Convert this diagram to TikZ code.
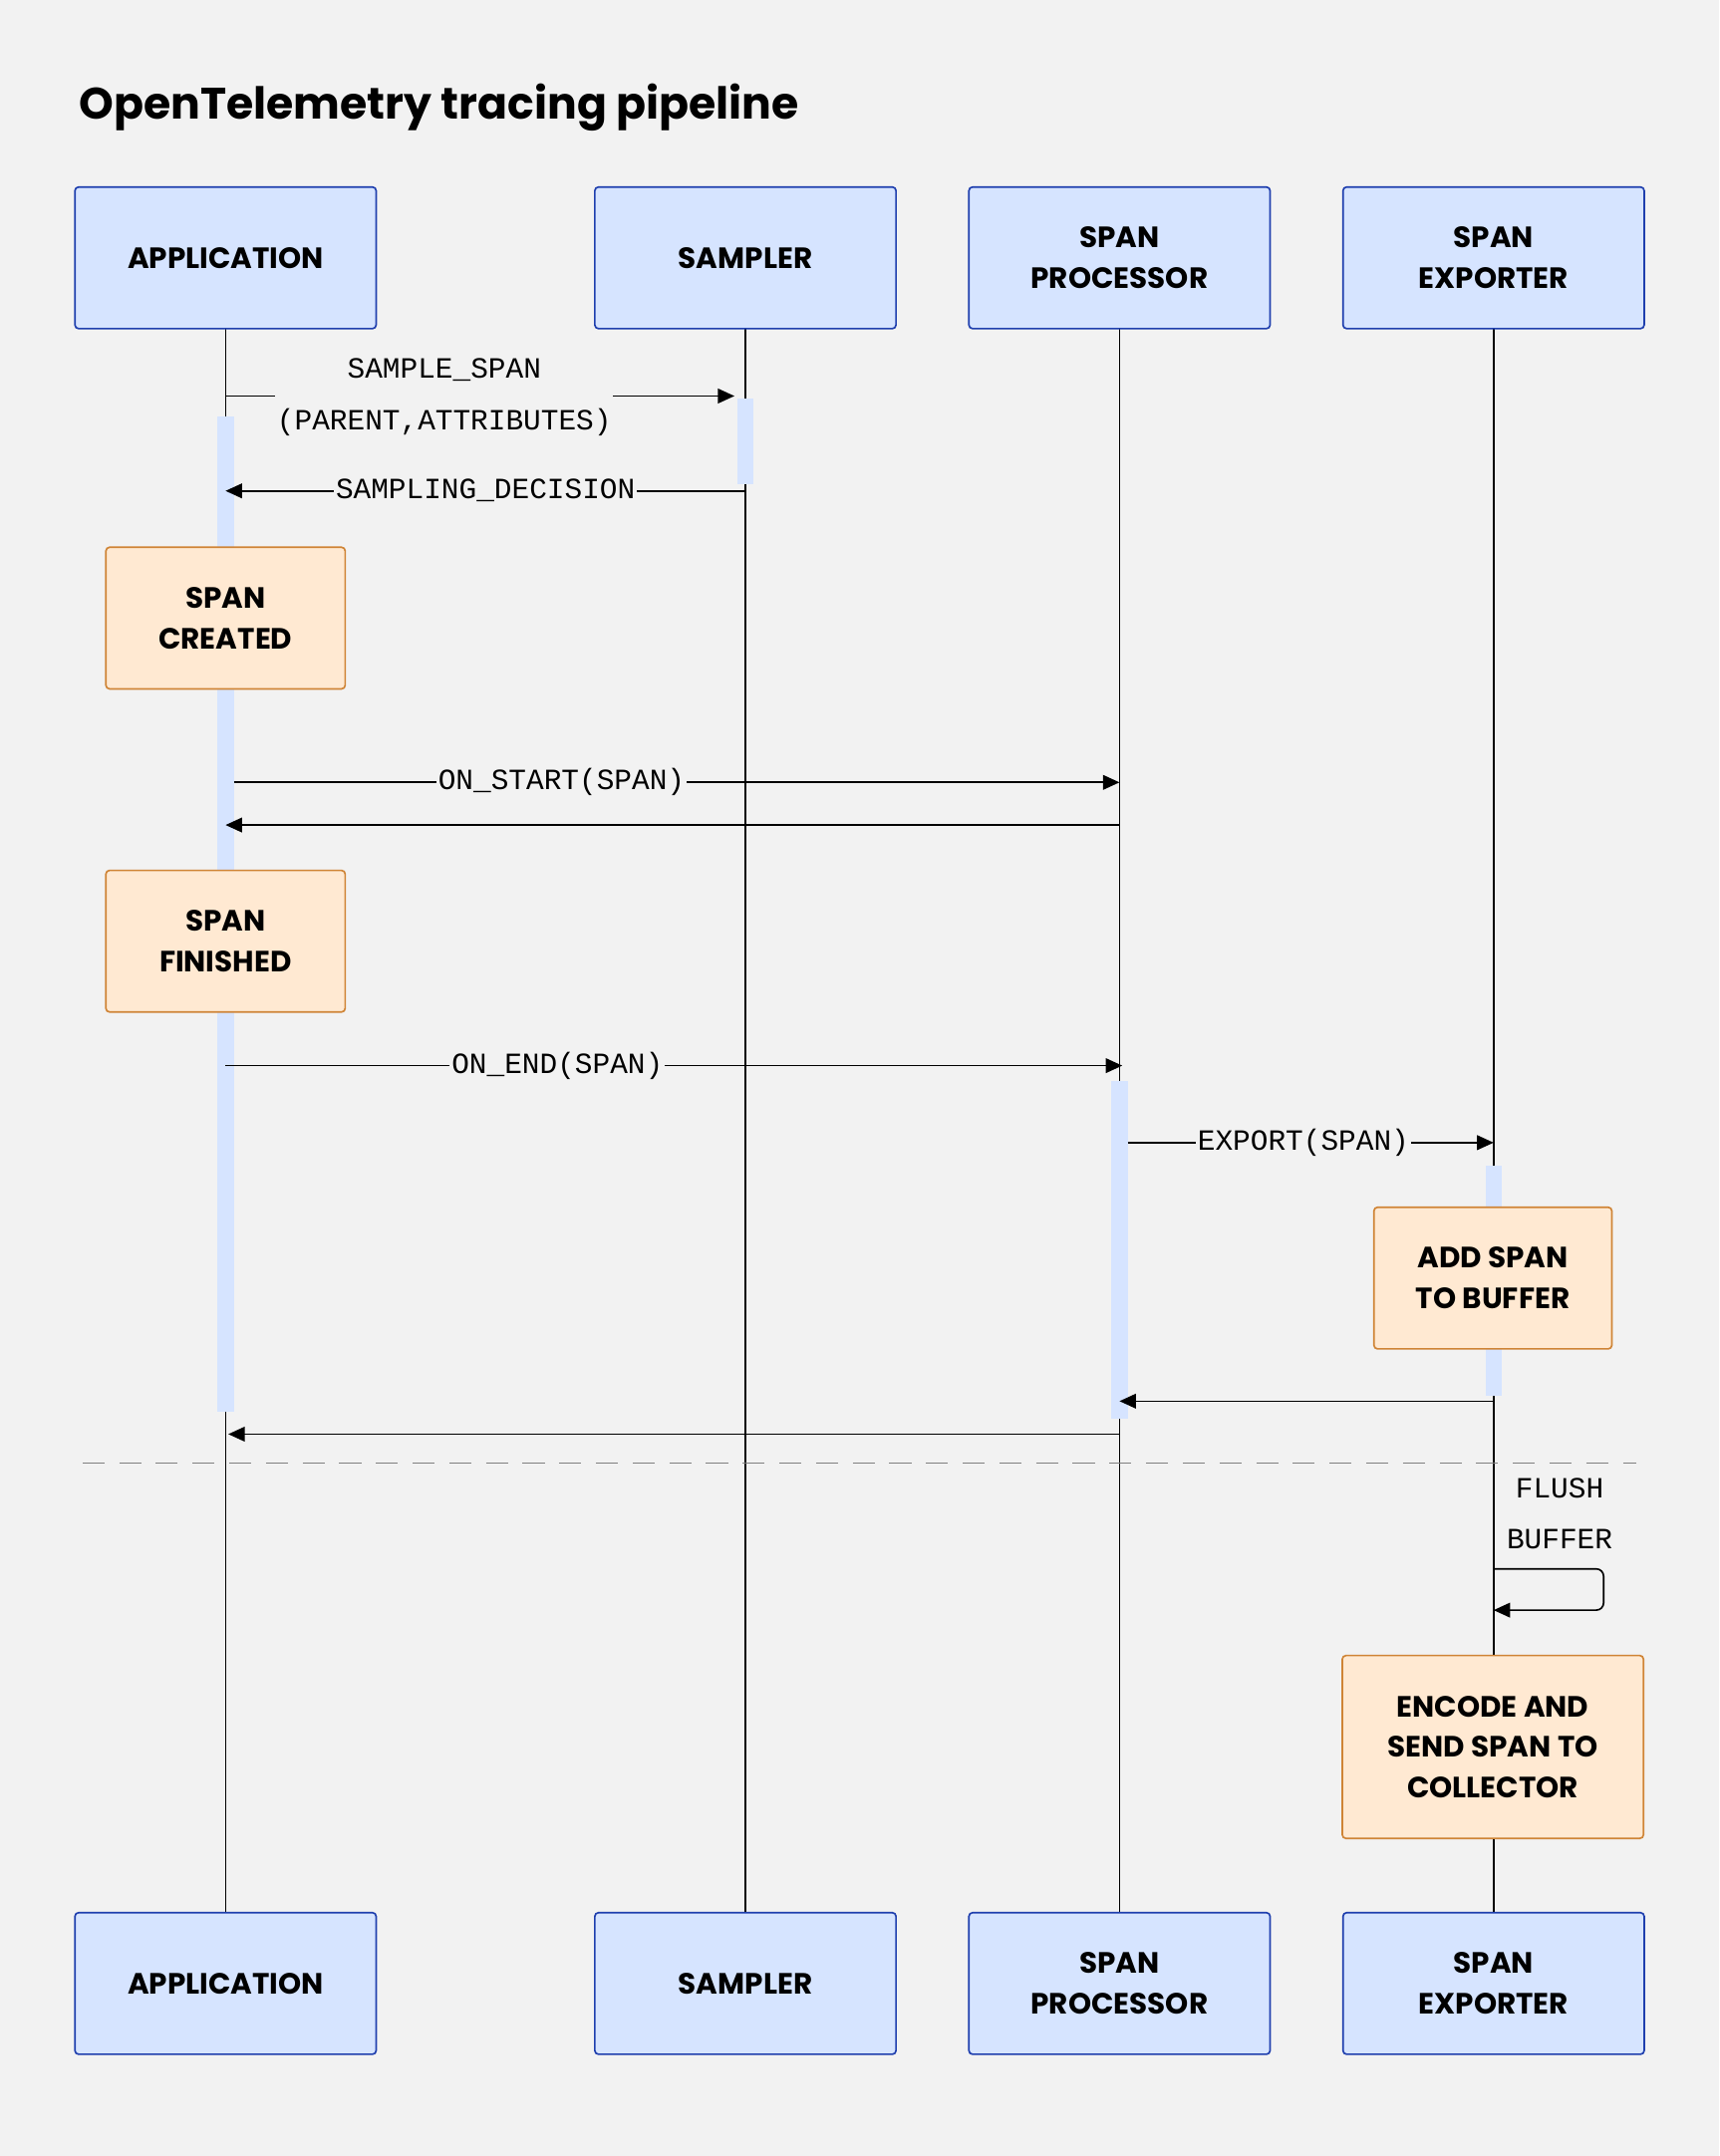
\documentclass[tikz,border=0pt]{standalone}
\usepackage{fontspec}
\setmainfont{Poppins}
\setmonofont{Liberation Mono}
\usetikzlibrary{arrows.meta}
\definecolor{bg}{HTML}{F2F2F2}
\definecolor{pfill}{HTML}{D6E4FF}
\definecolor{pline}{HTML}{1F3FAE}
\definecolor{nfill}{HTML}{FFE9D2}
\definecolor{nline}{HTML}{CF8436}
\definecolor{act}{HTML}{D6E4FF}
\begin{document}
\begin{tikzpicture}[x=0.75pt,y=-0.75pt,
  part/.style={draw=pline,fill=pfill,rounded corners=2pt,line width=0.9pt,minimum width=219*0.75pt,minimum height=103*0.75pt,align=center,font=\bfseries\fontsize{16}{22}\selectfont},
  note/.style={draw=nline,fill=nfill,rounded corners=2pt,line width=0.9pt,align=center,font=\bfseries\fontsize{16}{22}\selectfont},
  msg/.style={line width=0.9pt,-{Triangle[length=9pt,width=8pt]}},
  lbl/.style={fill=bg,inner sep=1pt,font=\ttfamily\fontsize{16}{28}\selectfont,align=center},
  life/.style={line width=0.9pt},
  actbar/.style={fill=act,draw=none}]
\fill[bg] (0,0) rectangle (1250,1568);
\useasboundingbox (0,0) rectangle (1250,1568);
\node[anchor=west,font=\bfseries\fontsize{24}{28}\selectfont] (title) at (53,78) {OpenTelemetry tracing pipeline};
% lifelines
\foreach \n/\x in {a/164,s/542,p/814,e/1086}{
  \draw[life] (\x,239) -- (\x,1391);
}
% activation bars
\fill[actbar] (158,303) rectangle (170,1027);
\fill[actbar] (536,290) rectangle (548,352);
\fill[actbar] (808,786) rectangle (820,1032);
\fill[actbar] (1080,848) rectangle (1092,1015);
% headers
\node[part] (a1) at (164,187.5) {APPLICATION};
\node[part] (s1) at (542,187.5) {SAMPLER};
\node[part] (p1) at (814,187.5) {SPAN\\PROCESSOR};
\node[part] (e1) at (1086,187.5) {SPAN\\EXPORTER};
\node[part] (a2) at (164,1442.5) {APPLICATION};
\node[part] (s2) at (542,1442.5) {SAMPLER};
\node[part] (p2) at (814,1442.5) {SPAN\\PROCESSOR};
\node[part] (e2) at (1086,1442.5) {SPAN\\EXPORTER};
% notes
\node[note,minimum width=174*0.75pt,minimum height=103*0.75pt] (n1) at (164,449.5) {SPAN\\CREATED};
\node[note,minimum width=174*0.75pt,minimum height=103*0.75pt] (n2) at (164,684.5) {SPAN\\FINISHED};
\node[note,minimum width=173*0.75pt,minimum height=103*0.75pt] (n3) at (1085.5,929.5) {ADD SPAN\\TO BUFFER};
\node[note,minimum width=219*0.75pt,minimum height=133*0.75pt] (n4) at (1085.5,1270.5) {ENCODE AND\\SEND SPAN TO\\COLLECTOR};
% messages
\coordinate (m1a) at (164,288); \coordinate (m1b) at (534,288);
\draw[msg] (m1a) -- (m1b);
\node[lbl] (l1) at (323,289) {SAMPLE\_SPAN\\(PARENT,ATTRIBUTES)};
\coordinate (m2a) at (542,357); \coordinate (m2b) at (164,357);
\draw[msg] (m2a) -- (m2b) node[lbl,midway] (l2) {SAMPLING\_DECISION};
\coordinate (m3a) at (170,569); \coordinate (m3b) at (814,569);
\draw[msg] (m3a) -- (m3b) node[lbl,pos=0.37] (l3) {ON\_START(SPAN)};
\coordinate (m4a) at (814,600); \coordinate (m4b) at (164,600);
\draw[msg] (m4a) -- (m4b);
\coordinate (m5a) at (164,775); \coordinate (m5b) at (816,775);
\draw[msg] (m5a) -- (m5b) node[lbl,pos=0.37] (l5) {ON\_END(SPAN)};
\coordinate (m6a) at (820,831); \coordinate (m6b) at (1086,831);
\draw[msg] (m6a) -- (m6b) node[lbl,pos=0.48] (l6) {EXPORT(SPAN)};
\coordinate (m7a) at (1086,1019); \coordinate (m7b) at (814,1019);
\draw[msg] (m7a) -- (m7b);
\coordinate (m8a) at (814,1043); \coordinate (m8b) at (166,1043);
\draw[msg] (m8a) -- (m8b);
% separator
\draw[gray,line width=0.6pt,dash pattern=on 12pt off 8pt] (60,1064) -- (1190,1064);
% self message
\node[font=\ttfamily\fontsize{16}{28}\selectfont,align=center] (l9) at (1134,1101) {FLUSH\\BUFFER};
\coordinate (m9a) at (1086,1141); \coordinate (m9b) at (1086,1171);
\draw[msg,rounded corners=4pt] (m9a) -- (1166,1141) -- (1166,1171) -- (m9b);
\end{tikzpicture}
\end{document}
